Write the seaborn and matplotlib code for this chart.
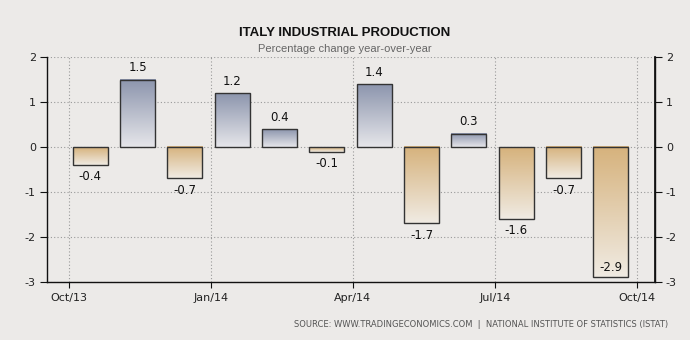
import numpy as np
import pandas as pd
import seaborn as sns
import matplotlib.pyplot as plt
from matplotlib.colors import LinearSegmentedColormap

months = ["Oct/13", "Nov/13", "Dec/13", "Jan/14", "Feb/14", "Mar/14",
          "Apr/14", "May/14", "Jun/14", "Jul/14", "Aug/14", "Sep/14"]
values = [-0.4, 1.5, -0.7, 1.2, 0.4, -0.1, 1.4, -1.7, 0.3, -1.6, -0.7, -2.9]
tick_labels = ["Oct/13", "Jan/14", "Apr/14", "Jul/14", "Oct/14"]
yticks = [-3, -2, -1, 0, 1, 2]

df = pd.DataFrame({"month": months, "value": values})

sns.set_theme(style="white")
plt.rcParams["font.family"] = ["DejaVu Sans"]
bg = "#ECEAE8"
narrow = ["Liberation Sans Narrow", "Liberation Sans", "DejaVu Sans"]

fig = plt.figure(figsize=(6.9, 3.4), dpi=100, facecolor=bg)
ax = fig.add_axes([0.068, 0.171, 0.881, 0.661], facecolor=bg)

sns.barplot(data=df, x="month", y="value", ax=ax, width=0.74,
            color="white", edgecolor="#333333", linewidth=1.0, zorder=3)

pos_cmap = LinearSegmentedColormap.from_list("pos", ["#E6E6EA", "#8C95AD"])
neg_cmap = LinearSegmentedColormap.from_list("neg", ["#F0EBE3", "#D6B27C"])
grad = np.linspace(0, 1, 256).reshape(-1, 1)

for patch, v in zip(ax.patches, values):
    patch.set_facecolor("none")
    x0 = patch.get_x(); w = patch.get_width()
    y0 = patch.get_y(); h = patch.get_height()
    ylo, yhi = min(y0, y0 + h), max(y0, y0 + h)
    cmap = pos_cmap if v >= 0 else neg_cmap
    ax.imshow(grad, cmap=cmap, extent=[x0, x0 + w, ylo, yhi],
              origin="lower", aspect="auto", zorder=2, vmin=0, vmax=1)

for i, v in enumerate(values):
    if v >= 0:
        ax.text(i, v + 0.12, f"{v:.1f}", ha="center", va="bottom",
                fontsize=8.5, color="#111111", zorder=4)
    elif v < -2.5:
        ax.text(i, v + 0.08, f"{v:.1f}", ha="center", va="bottom",
                fontsize=8.5, color="#111111", zorder=4)
    else:
        ax.text(i, v - 0.12, f"{v:.1f}", ha="center", va="top",
                fontsize=8.5, color="#111111", zorder=4)

tick_pos = [-0.45, 2.55, 5.55, 8.55, 11.55]
ax.set_xlim(-0.915, 11.93)
ax.set_ylim(-3, 2)
ax.set_aspect("auto")
ax.set_xticks(tick_pos)
ax.set_xticklabels(tick_labels, fontsize=8, color="#222222")
ax.set_yticks(yticks)
ax.set_yticklabels([str(t) for t in yticks], fontsize=8, color="#222222")
ax.set_xlabel("")
ax.set_ylabel("")

ax.grid(True, axis="both", linestyle=(0, (1, 2)), color="#999999", linewidth=0.8, zorder=0)
ax.set_axisbelow(True)

ax.spines["top"].set_visible(False)
for s in ["left", "right", "bottom"]:
    ax.spines[s].set_visible(True)
    ax.spines[s].set_color("#111111")
    ax.spines[s].set_linewidth(1.0)

ax.tick_params(axis="x", direction="out", length=4, width=0.8, color="#111111", bottom=True, pad=4)
ax.tick_params(axis="y", direction="out", length=5, width=0.8, color="#111111", left=True, pad=3)

ax2 = ax.twinx()
ax2.set_ylim(-3, 2)
ax2.set_yticks(yticks)
ax2.set_yticklabels([str(t) for t in yticks], fontsize=8, color="#222222")
ax2.tick_params(axis="y", direction="out", length=5, width=0.8, color="#111111", right=True, pad=3)
ax2.grid(False)
for s in ["top", "left", "bottom"]:
    ax2.spines[s].set_visible(False)
ax2.spines["right"].set_color("#111111")

fig.text(0.5, 0.902, "ITALY INDUSTRIAL PRODUCTION", ha="center", va="center",
         fontsize=9.5, fontweight="bold", color="#111111", family=narrow)
fig.text(0.5, 0.856, "Percentage change year-over-year", ha="center", va="center",
         fontsize=8, color="#666666", family=narrow)
fig.text(0.968, 0.045, "SOURCE: WWW.TRADINGECONOMICS.COM  |  NATIONAL INSTITUTE OF STATISTICS (ISTAT)",
         ha="right", va="center", fontsize=6, color="#555555")

fig.savefig("out.png", dpi=100, facecolor=bg)
